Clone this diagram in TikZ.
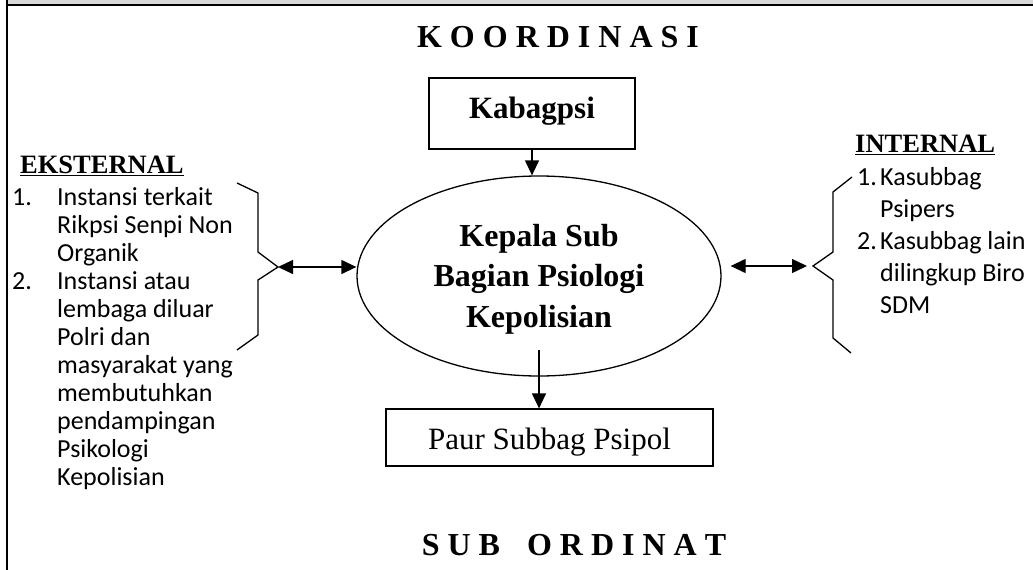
\documentclass[tikz,border=0pt]{standalone}
\usepackage{fontspec}
\setmainfont{Liberation Serif}
\newfontfamily\calibri{Carlito}
\usepackage{xcolor}
\usetikzlibrary{shapes.geometric,arrows.meta,scopes}
\definecolor{bandgray}{HTML}{D9D9D9}
\newcommand{\itemno}[2]{\makebox[#1][l]{#2}}

\begin{document}
\begin{tikzpicture}[x=1pt,y=-1pt,
      >={Triangle[length=15pt,width=14pt]},
      frame/.style={line width=1.5pt},
      box/.style={draw,line width=1.2pt,inner sep=0pt},
      oval/.style={ellipse,draw,line width=1.3pt,inner sep=0pt,minimum width=364pt,minimum height=200pt,
                   align=center,font=\fontsize{32}{40.5}\selectfont\bfseries},
      title/.style={font=\fontsize{32}{38}\selectfont\bfseries,anchor=base,inner sep=0pt},
      head/.style={font=\fontsize{26.5}{30}\selectfont\bfseries,anchor=base west,inner sep=0pt},
      list/.style={align=left,anchor=base west,inner sep=0pt},
      link/.style={line width=1.3pt},
      brace/.style={line width=1.3pt,line join=miter}
]
      \useasboundingbox (0,0) rectangle (1033,570);
      \fill[bandgray] (8,0) rectangle (1033,5);
      \draw[frame] (7,0) -- (7,570);
      \draw[frame] (7,5) -- (1033,5);

      \node[title] (koord) at (558,47) {K O O R D I N A S I};
      \node[title] (subord) at (574,555) {S U B \hspace{19pt}O R D I N A T};

      \node[box,minimum width=206pt,minimum height=71pt,text height=21pt,text depth=12pt,
            font=\fontsize{31}{36}\selectfont\bfseries] (kabag) at (532,113.5) {Kabagpsi};
      \node[oval,text height=102pt,text depth=0pt] (kepala) at (539,276) {Kepala Sub\\Bagian Psiologi\\Kepolisian};
      \node[box,minimum width=327pt,minimum height=57pt,text height=23pt,text depth=0pt,
            font=\fontsize{31}{36}\selectfont] (paur) at (549.5,437.5) {Paur Subbag Psipol};
      \coordinate (kepbot) at (539,350);

      \node[head] (ekst) at (20,173) {EKSTERNAL};
      \draw[line width=1.8pt] ([yshift=-2.5pt]ekst.base west) -- ([yshift=-2.5pt]ekst.base east);
      \node[list,font=\calibri\fontsize{26}{28}\selectfont] (ekslist) at (12,485)
            {\itemno{45pt}{1.}Instansi terkait\\
             \hspace*{45pt}Rikpsi Senpi Non\\
             \hspace*{45pt}Organik\\
             \itemno{45pt}{2.}Instansi atau\\
             \hspace*{45pt}lembaga diluar\\
             \hspace*{45pt}Polri dan\\
             \hspace*{45pt}masyarakat yang\\
             \hspace*{45pt}membutuhkan\\
             \hspace*{45pt}pendampingan\\
             \hspace*{45pt}Psikologi\\
             \hspace*{45pt}Kepolisian};

      \node[head] (intl) at (855,152) {INTERNAL};
      \draw[line width=1.8pt] ([yshift=-2.5pt]intl.base west) -- ([yshift=-2.5pt]intl.base east);
      \node[list,font=\calibri\fontsize{26}{32}\selectfont] (intlist) at (857,313)
            {\itemno{23pt}{1.}Kasubbag\\
             \hspace*{23pt}Psipers\\
             \itemno{23pt}{2.}Kasubbag lain\\
             \hspace*{23pt}dilingkup Biro\\
             \hspace*{23pt}SDM};

      \coordinate (ekstip) at (278,267);
      \coordinate (inttip) at (813,266);
      \draw[brace] (ekstip) ++(-41,-84) -- ++(21,10) -- ++(0,59) -- (ekstip) -- ++(-20,13) -- ++(0,55) -- ++(-21,15);
      \draw[brace] (inttip) ++(39,-89) -- ++(-19,15) -- ++(0,60) -- (inttip) -- ++(20,14) -- ++(0,58) -- ++(18,15);

      {[link]
          \draw[->] (kabag.south) -- (kabag.south |- kepala.north);
          \draw[->] (kepbot) -- (kepbot |- paur.north);
          \draw[<->] (ekstip) -- (ekstip -| kepala.west);
          \draw[<->,shorten <=9pt,shorten >=6pt] (kepala.east |- inttip) -- (inttip);
      }
\end{tikzpicture}
\end{document}
